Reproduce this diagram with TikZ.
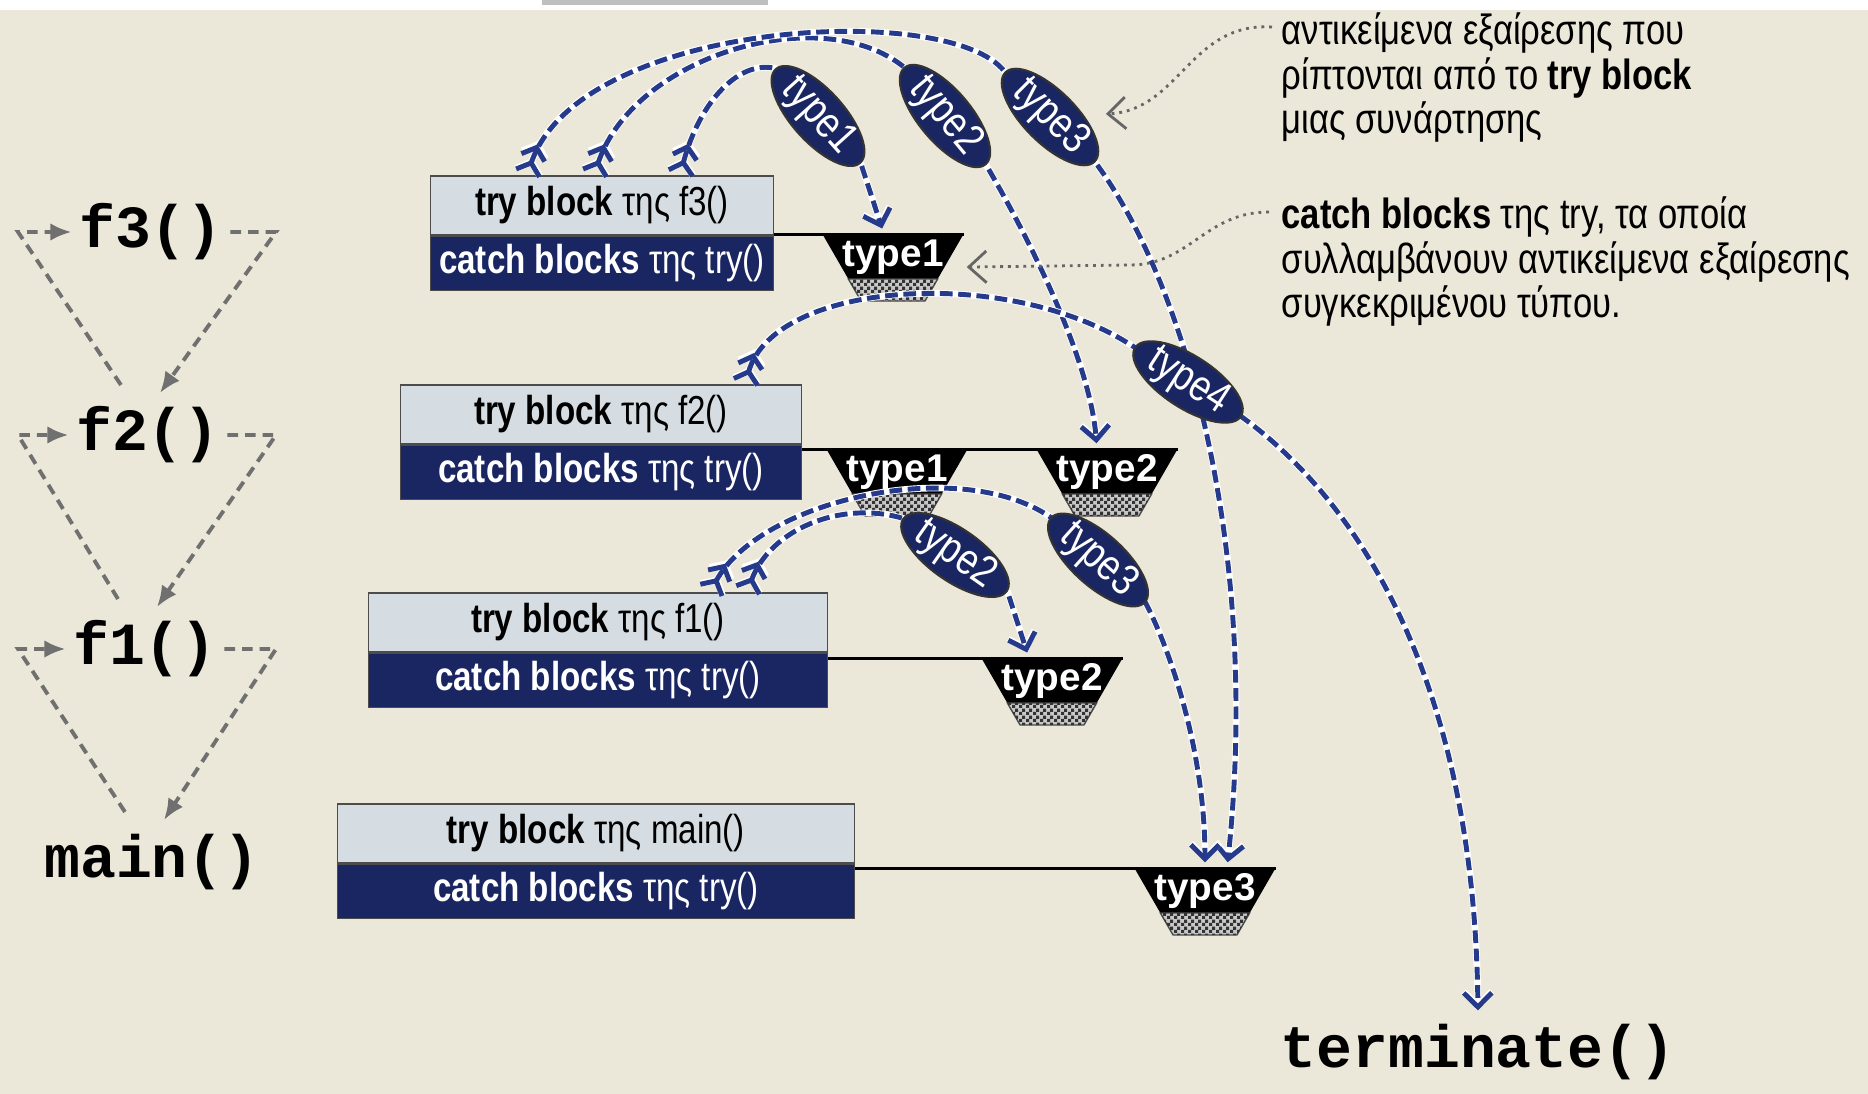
\documentclass[tikz,border=0pt]{standalone}
\usepackage{fontspec}
\setmainfont{Liberation Sans}
\setmonofont{Liberation Mono}
\newfontfamily\narrowsf[FakeStretch=0.82]{Liberation Sans}
\usetikzlibrary{positioning,arrows.meta,patterns,shapes.geometric}
\newcommand{\blk}[2]{\textbf{#1} της #2}
\definecolor{paper}{RGB}{236,232,217}
\definecolor{trybg}{RGB}{214,221,226}
\definecolor{catchblue}{RGB}{26,38,98}
\definecolor{tblue}{RGB}{38,58,140}
\definecolor{callgray}{RGB}{112,112,112}
\pgfdeclarepatternformonly{finechecks}{\pgfpointorigin}{\pgfqpoint{2pt}{2pt}}{\pgfqpoint{2pt}{2pt}}{%
  \pgfpathrectangle{\pgfpointorigin}{\pgfqpoint{1pt}{1pt}}%
  \pgfpathrectangle{\pgfqpoint{1pt}{1pt}}{\pgfqpoint{1pt}{1pt}}%
  \pgfusepath{fill}}
\pgfdeclarelayer{front}
\pgfsetlayers{main,front}
\tikzset{
  tryb/.style={draw=black!70, fill=trybg, minimum height=0.59cm, inner sep=0pt,
    font=\narrowsf\fontsize{11.5}{13}\selectfont},
  catchb/.style={draw=black!70, fill=catchblue, text=white, minimum height=0.54cm, inner sep=0pt,
    font=\narrowsf\fontsize{11.5}{13}\selectfont},
  bowltxt/.style={text=white, inner sep=0pt, font=\bfseries\fontsize{11}{12}\selectfont},
  bowl/.style={rectangle, minimum width=1.4cm, minimum height=0.66cm, inner sep=0pt,
    path picture={
      \fill[black] (path picture bounding box.north west) -- (path picture bounding box.north east)
        -- ([xshift=-0.254cm,yshift=-0.44cm]path picture bounding box.north east)
        -- ([xshift=0.254cm,yshift=-0.44cm]path picture bounding box.north west) -- cycle;
      \filldraw[fill=black!22, draw=black!70, line width=0.4pt,
        postaction={pattern=finechecks, pattern color=black!80}]
        ([xshift=0.254cm,yshift=-0.44cm]path picture bounding box.north west)
        -- ([xshift=-0.254cm,yshift=-0.44cm]path picture bounding box.north east)
        -- ([xshift=-0.381cm]path picture bounding box.south east)
        -- ([xshift=0.381cm]path picture bounding box.south west) -- cycle;},
    label={[bowltxt,yshift=0.11cm]center:#1}},
  exc/.style={ellipse, draw=black!80, line width=0.6pt, fill=catchblue, text=white,
    inner xsep=0pt, inner ysep=-1.5pt, minimum width=1.26cm, minimum height=0.52cm,
    font=\narrowsf\fontsize{12.5}{13}\selectfont},
  fn/.style={inner sep=2pt, font=\ttfamily\bfseries\fontsize{17}{18}\selectfont},
  notetxt/.style={align=left, inner sep=0pt, anchor=north west, font=\narrowsf\fontsize{12}{12.7}\selectfont},
  bar/.style={draw=black, line width=1pt},
  throw/.style={draw=tblue, line width=1.4pt, dash pattern=on 3.6pt off 1.6pt, shorten >=0.06cm,
    preaction={draw=white, line width=1.9pt, solid},
    arrows={{Straight Barb[reversed,length=3pt,width=7pt]Straight Barb[reversed,length=3pt,width=7pt]}-{Straight Barb[length=4pt,width=8pt]}}},
  call/.style={draw=callgray, line width=1.1pt, dash pattern=on 3pt off 2pt, -{Latex[length=6pt,width=5pt]}},
  pointer/.style={draw=black!60, line width=0.8pt, dash pattern=on 0.8pt off 1.4pt, -{Straight Barb[length=5pt,width=9pt]}}
}
\begin{document}
\begin{tikzpicture}[x=0.01cm,y=-0.01cm]
  \useasboundingbox (0,0) rectangle (1868,1094);
  \fill[paper] (0,10) rectangle (1868,1094);
  \fill[black!25] (542,0) rectangle (768,5);

  \node[tryb,minimum width=3.43cm] (try3) at (602,205.5) {\blk{try block}{f3()}};
  \node[catchb,minimum width=3.43cm,below=0pt of try3] (catch3) {\blk{catch blocks}{try()}};
  \node[tryb,minimum width=4.01cm] (try2) at (601,414.5) {\blk{try block}{f2()}};
  \node[catchb,minimum width=4.01cm,below=0pt of try2] (catch2) {\blk{catch blocks}{try()}};
  \node[tryb,minimum width=4.59cm] (try1) at (598,622.5) {\blk{try block}{f1()}};
  \node[catchb,minimum width=4.59cm,below=0pt of try1] (catch1) {\blk{catch blocks}{try()}};
  \node[tryb,minimum width=5.17cm] (try0) at (596,833.5) {\blk{try block}{main()}};
  \node[catchb,minimum width=5.17cm,below=0pt of try0] (catch0) {\blk{catch blocks}{try()}};

  \node[bowl=type1] (c31) at (893,268) {};
  \node[bowl=type1] (c21) at (897,483) {};
  \node[bowl=type2] (c22) at (1107,483) {};
  \node[bowl=type2] (c12) at (1052,692) {};
  \node[bowl=type3] (c03) at (1205,902) {};
  \draw[bar] (catch3.east |- c31.north) -- (c31.north east);
  \draw[bar] (catch2.east |- c22.north) -- (c22.north east);
  \draw[bar] (catch1.east |- c12.north) -- (c12.north east);
  \draw[bar] (catch0.east |- c03.north) -- (c03.north east);

  \node[fn] (f3) at (151,232) {f3()};
  \node[fn] (f2) at (148,435) {f2()};
  \node[fn] (f1) at (145,649) {f1()};
  \node[fn] (main) at (152,862) {main()};
  \node[fn] (term) at (1478,1052) {terminate()};
  \foreach \a/\b in {f3/f2,f2/f1,f1/main}{
    \draw[call] ([xshift=-0.27cm,yshift=0.5cm]\b.center) -- (18,0 |- \a) -- (\a);
    \draw[call] (\a) -- (276,0 |- \a) -- ([xshift=0.12cm,yshift=0.42cm]\b.center);
  }

  \node[notetxt] (nthrow) at (1281,12) {αντικείμενα εξαίρεσης που\\ρίπτονται από το \textbf{try block}\\μιας συνάρτησης};
  \node[notetxt] (ncatch) at (1281,196) {\textbf{catch blocks} της try, τα οποία\\συλλαμβάνουν αντικείμενα εξαίρεσης\\συγκεκριμένου τύπου.};

  \begin{pgfonlayer}{front}
    \node[exc,rotate=-48] (x31) at (818,116) {type1};
    \node[exc,rotate=-50] (x32) at (945,116) {type2};
    \node[exc,rotate=-45] (x33) at (1050,117) {type3};
    \node[exc,rotate=-33] (x24) at (1188,382) {type4};
    \node[exc,rotate=-35] (x12) at (955,555) {type2};
    \node[exc,rotate=-42] (x13) at (1098,560) {type3};
  \end{pgfonlayer}

  \draw[throw] (680,0 |- try3.north) .. controls (700,100) and (740,60) .. (x31.west) -- (x31.east) -- ([xshift=-0.09cm]c31.north);
  \draw[throw] (594,0 |- try3.north) .. controls (634,56) and (820,0) .. (x32.west) -- (x32.east) .. controls (1030,240) and (1090,360) .. ([xshift=-0.1cm]c22.north);
  \draw[throw] (527,0 |- try3.north) .. controls (580,20) and (950,0) .. (x33.west) -- (x33.east) .. controls (1190,290) and (1260,560) .. ([xshift=0.22cm]c03.north);
  \draw[throw] (745,0 |- try2.north) .. controls (775,280) and (1010,265) .. (x24.west) -- (x24.east) .. controls (1370,510) and (1475,700) .. (term.north);
  \draw[throw] (710,0 |- try1.north) .. controls (760,500) and (960,455) .. (x13.west) -- (x13.east) .. controls (1175,660) and (1205,760) .. (c03.north);
  \draw[throw] (747,0 |- try1.north) .. controls (770,530) and (840,500) .. (x12.west) -- (x12.east) -- ([xshift=-0.23cm]c12.north);

  \draw[pointer,shorten >=0.22cm] ([xshift=-0.09cm,yshift=-0.15cm]nthrow.north west) .. controls (1190,22) and (1180,110) .. (x33);
  \draw[pointer,shorten >=0.03cm] ([xshift=-0.12cm,yshift=-0.16cm]ncatch.north west) .. controls (1205,212) and (1190,265) .. (1130,265) -- (c31);
\end{tikzpicture}
\end{document}
